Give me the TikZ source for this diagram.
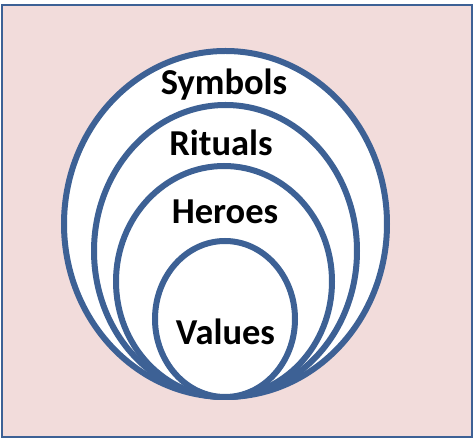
\documentclass[tikz,border=0pt]{standalone}
\usepackage{fontspec}
\setmainfont{Carlito}
\definecolor{ringblue}{HTML}{3D6195}
\definecolor{bgpink}{HTML}{F2DCDB}
\tikzset{
  ring/.style={draw=ringblue, line width=6pt, fill=white},
  lbl/.style={font=\bfseries\fontsize{36.5}{42}\selectfont, text=black, anchor=base, inner sep=0pt}
}
\begin{document}
\begin{tikzpicture}[x=1pt,y=-1pt]
\useasboundingbox (0,0) rectangle (475,438);
\node[draw=ringblue, line width=2pt, fill=bgpink, minimum width=470pt, minimum height=432pt, inner sep=0pt, anchor=north west] (frame) at (1,4) {};
\draw[ring] (225.5,224) ellipse [x radius=161.5, y radius=173];
\draw[ring] (225.5,251) ellipse [x radius=131.5, y radius=146];
\draw[ring] (224,281.5) ellipse [x radius=108, y radius=115.5];
\draw[ring] (225,319) ellipse [x radius=70, y radius=78];
\node[lbl] (symbols) at (224,94.5) {Symbols};
\node[lbl] (rituals) at (221,155.5) {Rituals};
\node[lbl] (heroes) at (225,223.5) {Heroes};
\node[lbl] (values) at (225.5,344.5) {Values};
\end{tikzpicture}
\end{document}
